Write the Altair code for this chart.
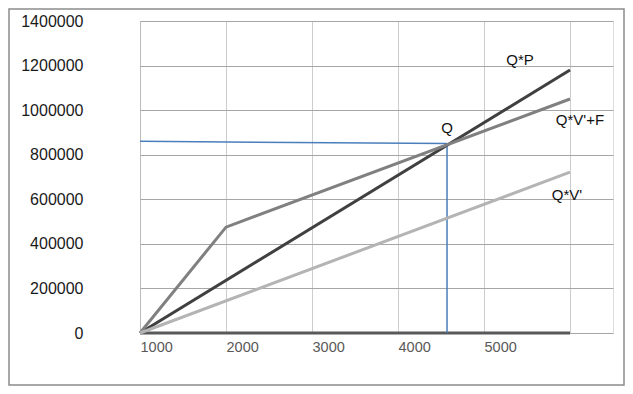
import altair as alt
import pandas as pd

# ---- data ----
series_names = ["Q*P", "Q*V'+F", "Q*V'"]
series_colors = ["#404040", "#808080", "#b4b4b4"]

qp_x = [1000, 6000]
qp_y = [0, 1180000]
qvf_x = [1000, 2000, 6000]
qvf_y = [0, 475000, 1050000]
qv_x = [1000, 6000]
qv_y = [0, 722000]

zero_x = [1000, 6000]
zero_y = [0, 0]

breakeven_q = 4570
breakeven_value = 850000
guide_h_x = [1000, 4570]
guide_h_y = [860000, 850000]

x_grid_values = [1000, 2000, 3000, 4000, 5000, 6000]
y_tick_values = [0, 200000, 400000, 600000, 800000, 1000000, 1200000, 1400000]

# ---- tables ----
lines_df = pd.concat([
    pd.DataFrame({"q": qp_x, "v": qp_y, "s": series_names[0], "o": range(len(qp_x))}),
    pd.DataFrame({"q": qvf_x, "v": qvf_y, "s": series_names[1], "o": range(len(qvf_x))}),
    pd.DataFrame({"q": qv_x, "v": qv_y, "s": series_names[2], "o": range(len(qv_x))}),
])
zero_df = pd.DataFrame({"q": zero_x, "v": zero_y})
guide_h_df = pd.DataFrame({"q": guide_h_x, "v": guide_h_y})
guide_v_df = pd.DataFrame({"q": [breakeven_q, breakeven_q], "v": [0, breakeven_value]})
ends_df = pd.DataFrame({"q": [qp_x[-1], qvf_x[-1], qv_x[-1]],
                        "v": [qp_y[-1], qvf_y[-1], qv_y[-1]],
                        "s": series_names})
q_df = pd.DataFrame({"q": [breakeven_q], "v": [breakeven_value], "s": ["Q"]})

x_scale = alt.Scale(domain=[1000, 6500], nice=False, zero=False)
y_scale = alt.Scale(domain=[0, 1400000], nice=False)

x_axis = alt.Axis(values=x_grid_values, format="d", title=None,
                  labelExpr="datum.value >= 6000 ? '' : datum.label",
                  labelAlign="left", labelBaseline="top", labelPadding=7,
                  labelFontSize=14.5, labelColor="#595959", ticks=False, domain=False,
                  grid=True, gridColor="#9a9a9a", gridDash=[1, 1], gridWidth=1)
y_axis = alt.Axis(values=y_tick_values, format="d", title=None,
                  labelFontSize=16, labelColor="#1a1a1a", labelPadding=57,
                  ticks=False, domain=False, grid=True, gridColor="#a6a6a6", gridWidth=1)

base_x = alt.X("q:Q", scale=x_scale, axis=x_axis)
base_y = alt.Y("v:Q", scale=y_scale, axis=y_axis)

grid_layer = alt.Chart(zero_df).mark_line(opacity=0).encode(x=base_x, y=base_y)

zero_line = alt.Chart(zero_df).mark_line(color="#595959", strokeWidth=3).encode(
    x=alt.X("q:Q", scale=x_scale), y=alt.Y("v:Q", scale=y_scale))

blue_h = alt.Chart(guide_h_df).mark_line(color="#4a7ebb", strokeWidth=1.5).encode(
    x=alt.X("q:Q", scale=x_scale), y=alt.Y("v:Q", scale=y_scale))
blue_v = alt.Chart(guide_v_df).mark_line(color="#4a7ebb", strokeWidth=1.5).encode(
    x=alt.X("q:Q", scale=x_scale), y=alt.Y("v:Q", scale=y_scale))

series_lines = alt.Chart(lines_df).mark_line(strokeWidth=3).encode(
    x=alt.X("q:Q", scale=x_scale),
    y=alt.Y("v:Q", scale=y_scale),
    color=alt.Color("s:N", scale=alt.Scale(domain=series_names, range=series_colors), legend=None),
    order="o:Q",
    detail="s:N",
)

def end_label(name, dx, dy):
    return alt.Chart(ends_df).transform_filter(alt.datum.s == name).mark_text(
        fontSize=15, color="#111111", dx=dx, dy=dy, align="center", baseline="middle"
    ).encode(x=alt.X("q:Q", scale=x_scale), y=alt.Y("v:Q", scale=y_scale), text="s:N")

lbl_qp = end_label(series_names[0], -50, -10)
lbl_qvf = end_label(series_names[1], 10, 21)
lbl_qv = end_label(series_names[2], -3, 23)
lbl_q = alt.Chart(q_df).mark_text(fontSize=15, color="#111111", dy=-16, align="center",
                                  baseline="middle").encode(
    x=alt.X("q:Q", scale=x_scale), y=alt.Y("v:Q", scale=y_scale), text="s:N")

border = alt.Chart(pd.DataFrame({"a": [0]})).mark_rect(
    fillOpacity=0, stroke="#8c8c8c", strokeWidth=1.5).encode(
    x=alt.value(-131), x2=alt.value(484), y=alt.value(-12), y2=alt.value(364))

chart = alt.layer(
    grid_layer, zero_line, blue_h, blue_v, series_lines,
    lbl_qp, lbl_qvf, lbl_qv, lbl_q, border
).properties(
    width=473, height=312,
    autosize=alt.AutoSizeParams(type="none"),
    padding={"left": 132, "top": 13, "right": 12, "bottom": 53},
    background="white",
).configure_view(stroke=None).configure(font="Liberation Sans")

chart.save("out.html", embed_options={"renderer": "svg", "actions": False})
